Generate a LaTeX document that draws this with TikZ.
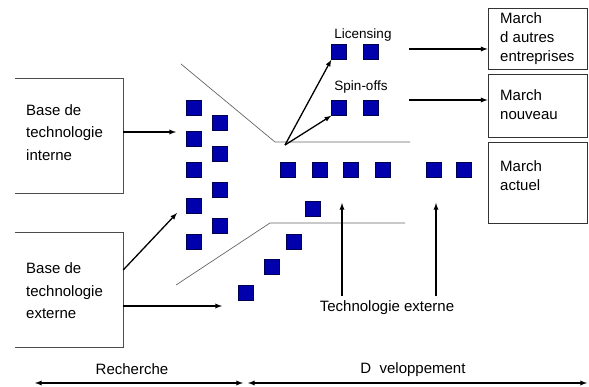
\documentclass[tikz,border=0pt]{standalone}
\usepackage{fontspec}
\setmainfont{Liberation Sans}
\usetikzlibrary{arrows}

\definecolor{sqblue}{RGB}{0,0,172}
\definecolor{sqedge}{RGB}{0,0,80}

\begin{document}
\begin{tikzpicture}[x=1pt, y=-1pt,
  sq/.style={draw=sqedge, fill=sqblue, minimum size=15pt, inner sep=0pt},
  txt/.style={font=\fontsize{15}{22.5}\selectfont, align=left, inner sep=0pt},
  rtxt/.style={font=\fontsize{15}{19}\selectfont, align=left, inner sep=0pt},
  small/.style={font=\fontsize{13.5}{16}\selectfont, inner sep=0pt},
  arr/.style={-latex, line width=1.3pt},
  funnel/.style={draw=black!60, line width=0.7pt}]
  \useasboundingbox (0,0) rectangle (589,387);

  % technology bases on the left (open on their left side)
  \node[minimum width=108pt, minimum height=114pt, inner sep=0pt] (intB) at (69,136) {};
  \draw[black!70, line width=0.8pt] (intB.north west) -- (intB.north east) -- (intB.south east) -- (intB.south west);
  \node[txt, anchor=west] (intT) at (26,132.5) {Base de\\technologie\\interne};
  \node[minimum width=108pt, minimum height=114pt, inner sep=0pt] (extB) at (69,290) {};
  \draw[black!70, line width=0.8pt] (extB.north west) -- (extB.north east) -- (extB.south east) -- (extB.south west);
  \node[txt, anchor=west] (extT) at (26,291) {Base de\\technologie\\externe};

  % markets on the right
  \node[draw=black!80, line width=0.8pt, minimum width=99pt, minimum height=61pt, inner sep=0pt] (autres) at (537.5,38.5) {};
  \node[rtxt, anchor=west] (autresT) at (500,39) {March\\d autres\\entreprises};
  \node[draw=black!80, line width=0.8pt, minimum width=99pt, minimum height=63pt, inner sep=0pt] (nouveau) at (537.5,105.5) {};
  \node[rtxt, anchor=west] (nouveauT) at (500,104.5) {March\\nouveau};
  \node[draw=black!80, line width=0.8pt, minimum width=99pt, minimum height=81pt, inner sep=0pt] (actuel) at (537.5,182.5) {};
  \node[rtxt, anchor=west] (actuelT) at (500,175.5) {March\\actuel};

  % funnel
  \draw[funnel] (181,64) -- (275,142) -- (410,142);
  \draw[funnel] (176,285) -- (270,223) -- (405,223);

  % projects
  \foreach \y [count=\i] in {108,139,170,206,242}
    \node[sq] (a\i) at (194,\y) {};
  \foreach \y [count=\i] in {123,154,190,226}
    \node[sq] (b\i) at (220,\y) {};
  \foreach \x/\y [count=\i] in {246/293,272/267,294/242,313/209}
    \node[sq] (d\i) at (\x,\y) {};
  \foreach \x [count=\i] in {288,320,351,383,434,464}
    \node[sq] (m\i) at (\x,170) {};
  \node[sq] (lic1) at (339,52) {};
  \node[sq] (lic2) at (371,52) {};
  \node[sq] (spin1) at (339,108) {};
  \node[sq] (spin2) at (371,108) {};
  \node[small] (licT) at (363,35) {Licensing};
  \node[small] (spinT) at (361,87) {Spin-offs};

  % arrows
  \coordinate (inA) at (176,132);
  \coordinate (exA) at (177,213);
  \coordinate (exB) at (222,306);
  \coordinate (fork) at (285,145);
  \draw[arr] ([yshift=4pt]intB.east) -- (inA);
  \draw[arr] ([yshift=20pt]extB.east) -- (exA);
  \draw[arr] ([yshift=-16pt]extB.east) -- (exB);
  \draw[arr] (fork) -- (lic1.south west);
  \draw[arr] (fork) -- (spin1.south west);
  \coordinate (licA) at (409,49);
  \coordinate (spinA) at (409,100);
  \draw[arr] (licA) -- (licA -| autres.west);
  \draw[arr] (spinA) -- (spinA -| nouveau.west);

  % external technology
  \node[font=\fontsize{15}{18}\selectfont, inner sep=0pt] (tech) at (387,308) {Technologie externe};
  \coordinate (ta) at (342,203);
  \coordinate (tb) at (436,203);
  \draw[arr] (tech.north -| ta) ++(0,-5) -- (ta);
  \draw[arr] (tech.north -| tb) ++(0,-5) -- (tb);

  % phases
  \node[font=\fontsize{15}{18}\selectfont, inner sep=0pt] (rech) at (132,369) {Recherche};
  \node[font=\fontsize{15}{18}\selectfont, inner sep=0pt] (dev) at (413,370) {D\ \ veloppement};
  \coordinate (r1) at (35,383);
  \coordinate (r2) at (243,383);
  \coordinate (d1) at (248,383);
  \coordinate (d2) at (587,383);
  \draw[latex-latex, line width=1.3pt] (r1) -- (r2);
  \draw[latex-latex, line width=1.3pt] (d1) -- (d2);
\end{tikzpicture}
\end{document}
